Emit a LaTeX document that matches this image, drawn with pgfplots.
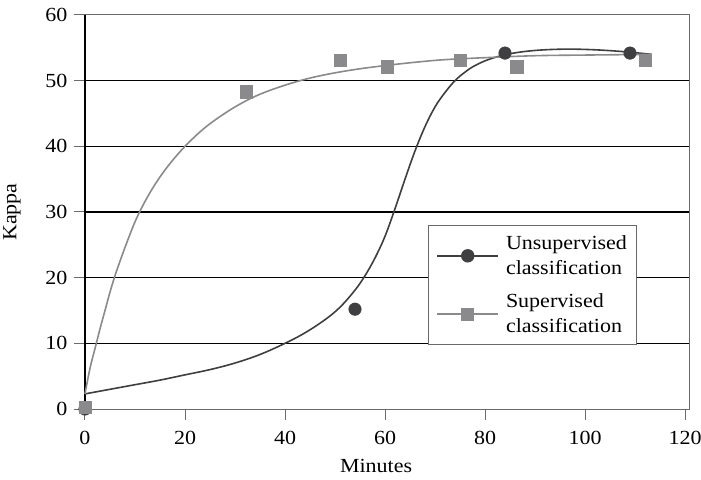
\documentclass[border=0pt]{standalone}
\usepackage{fontspec}
\setmainfont{Liberation Serif}[FakeStretch=1.1]
\usepackage{pgfplots}
\pgfplotsset{compat=1.18}
\usetikzlibrary{calc}
\definecolor{unsup}{HTML}{3F3F41}
\definecolor{sup}{HTML}{8A8A8C}
\definecolor{frame}{HTML}{6A6A6A}
\newcommand{\fs}{\fontsize{20}{25}\selectfont}
\begin{document}
\begin{tikzpicture}
\begin{axis}[
  scale only axis,
  width=604pt, height=394pt,
  xmin=0, xmax=120.8, ymin=0, ymax=60,
  xtick={0,20,...,120}, ytick={0,10,...,60},
  extra y ticks={10,20,30,40,50}, extra y tick labels={},
  extra y tick style={ymajorgrids=true},
  tick pos=left,
  /pgf/number format/assume math mode=true,
  tick label style={font=\fs},
  label style={font=\fs},
  xlabel={Minutes}, ylabel={Kappa},
  xlabel style={at={(axis description cs:0.482,-0.1447)}, anchor=center},
  ylabel style={at={(axis description cs:-0.1209,0.5)}, anchor=center},
  tick align=outside, major tick length=11pt,
  tick style={draw=frame, line width=1pt},
  axis line style={draw=frame, line width=1pt},
  grid style={draw=black, line width=1.4pt},
  x tick label style={yshift=-8pt},
  y tick label style={xshift=-3pt},
  clip=false,
  legend style={at={(axis cs:68.6,28.0)}, anchor=north west, draw=frame, line width=1pt,
    font=\fs, cells={align=left}, inner xsep=8pt, inner ysep=8pt, row sep=14pt, column sep=5pt},
  legend cell align=left,
]
% left axis line (black)
\draw[black, line width=1.4pt] (axis cs:0,0) -- (axis cs:0,60);
% legend images
\addlegendimage{legend image code/.code={
   \draw[unsup, line width=1.5pt] (0pt,0pt) -- (61pt,0pt);
   \fill[unsup] (30.5pt,0pt) circle (6.2pt);}}
\addlegendentry{Unsupervised\\classification}
\addlegendimage{legend image code/.code={
   \draw[sup, line width=1.5pt] (0pt,0pt) -- (61pt,0pt);
   \fill[sup] (24.5pt,-6pt) rectangle (36.5pt,6pt);}}
\addlegendentry{Supervised\\classification}
% fitted curves
\addplot[forget plot, unsup, line width=1.6pt, smooth, tension=0.6] coordinates {
 (0,2.3) (5,3) (10,3.7) (15,4.4) (20,5.2) (25,6.0) (30,7.0) (35,8.3) (40,10)
 (44,11.6) (48,13.6) (51,15.5) (54,18.1) (56,20.3) (58,23) (60,26.3) (62,30.5)
 (64,35) (66,39.3) (68,43) (70,46) (72,48.2) (74,50) (76,51.3) (78,52.3)
 (81,53.3) (85,54.1) (90,54.6) (96,54.8) (102,54.7) (108,54.4) (113.4,54)};
\addplot[forget plot, sup, line width=1.6pt, smooth, tension=0.6] coordinates {
 (0,2.3) (1,6.2) (2,9.2) (3,12.2) (4,15) (5,17.8) (6,20.3) (7,22.5) (8,24.6)
 (10,28.5) (12,31.6) (14,34.2) (16,36.4) (18,38.3) (20,40) (23,42.2) (26,44)
 (30,46) (34,47.6) (38,48.8) (43,50) (48,50.9) (54,51.7) (60,52.3) (66,52.8)
 (72,53.2) (80,53.5) (90,53.8) (100,53.9) (113,54)};
% data points
\addplot[forget plot, only marks, mark=*, mark size=6.3pt, mark options={fill=unsup, draw=unsup}]
 coordinates {(0,0) (54,15.2) (84,54.2) (109,54.2)};
\addplot[forget plot, only marks, mark=square*, mark size=6.2pt, mark options={fill=sup, draw=sup}]
 coordinates {(0,0.3) (32.2,48.3) (51,53.1) (60.4,52.1) (75,53.1) (86.3,52.1) (112,53.1)};
\end{axis}
\pgfresetboundingbox
\path ($(current axis.south west)+(-85pt,-70pt)$) rectangle ($(current axis.north east)+(12pt,15pt)$);
\end{tikzpicture}
\end{document}
